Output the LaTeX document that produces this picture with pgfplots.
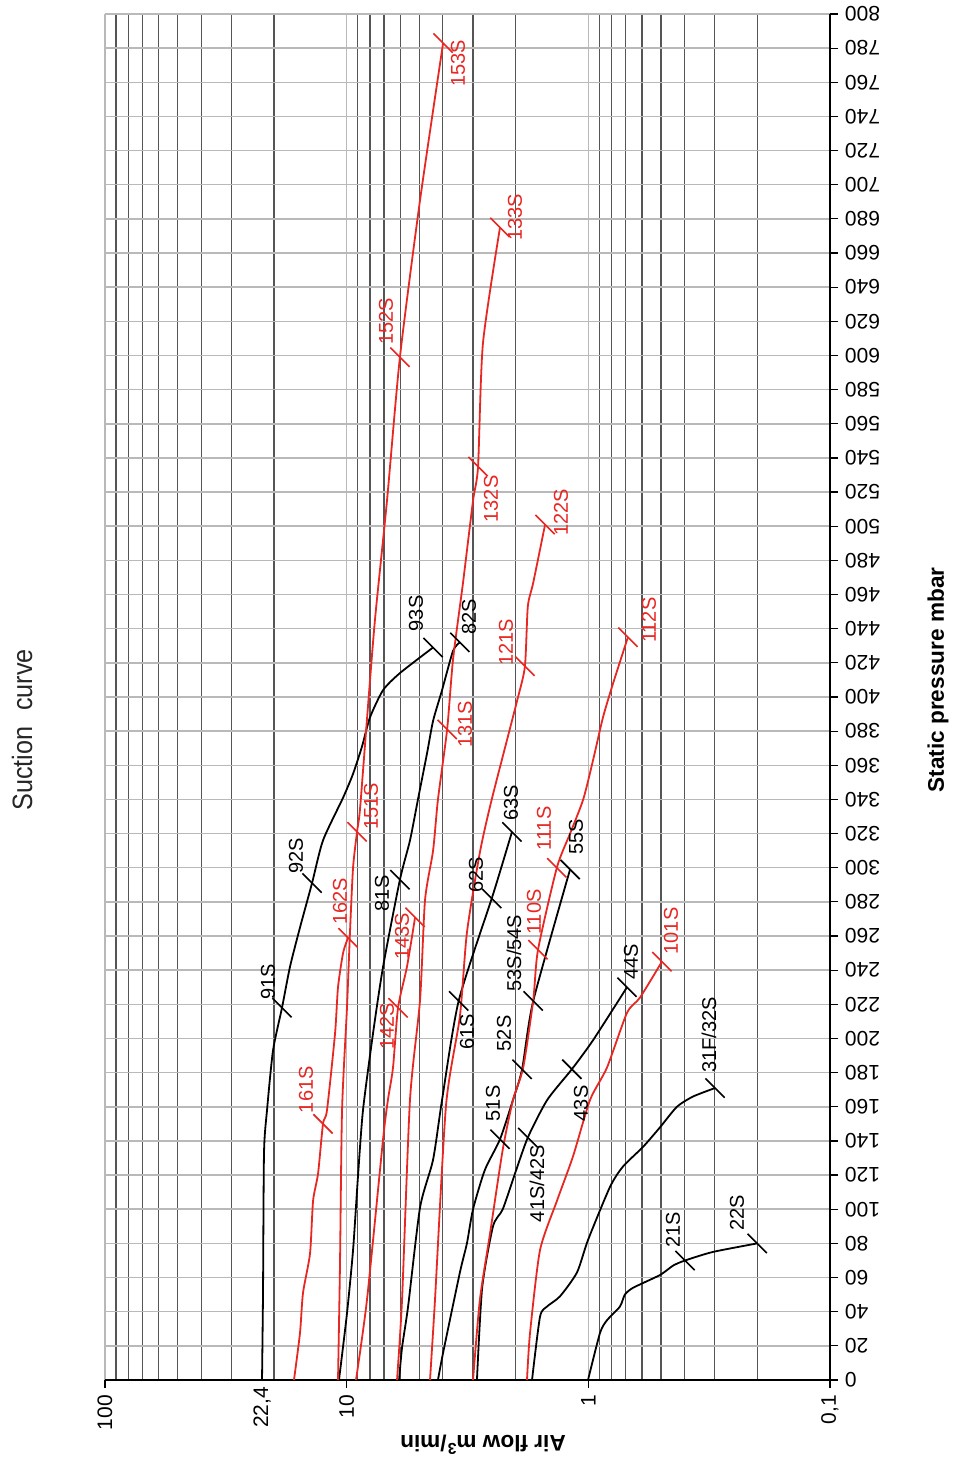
\documentclass[border=0pt]{standalone}
\usepackage{pgfplots}
\pgfplotsset{compat=1.18}
\usepackage{fontspec}
\setmainfont{Liberation Sans}
\definecolor{cred}{RGB}{232,38,34}
\definecolor{gridlight}{RGB}{185,185,185}
\definecolor{griddark}{RGB}{85,85,85}
\begin{document}
\begin{tikzpicture}
\useasboundingbox (-52.5pt,-40.5pt) rectangle (424.5pt,690pt);
\begin{axis}[
  at={(0pt,0pt)}, anchor=south west,
  scale only axis, width=362.5pt, height=683pt,
  xmode=log, x dir=reverse, xmin=0.1, xmax=100,
  ymin=0, ymax=800,
  xtick={0.1,1,10,100}, xticklabels={0{,}1,1,10,100},
  extra x ticks={22.4}, extra x tick labels={22{,}4},
  extra x tick style={grid=none, major tick length=0pt},
  ytick={0,20,...,800},
  axis x line*=bottom, axis y line*=right,
  axis line style={-, black, line width=0.7pt},
  every outer x axis line/.append style={-},
  every outer y axis line/.append style={-},
  tick align=outside, major tick length=4pt, minor tick length=0pt,
  tick style={black, line width=0.6pt},
  xmajorgrids=true, xminorgrids=true, ymajorgrids=true,
  major grid style={gridlight, line width=0.75pt},
  minor grid style={griddark, line width=0.6pt},
  /pgf/number format/assume math mode=true,
  ticklabel style={font=\fontsize{10.5}{12}\selectfont},
  xticklabel style={rotate=90, anchor=east},
  yticklabel style={rotate=180, anchor=east},
  clip=false,
  every node/.append style={font=\fontsize{10.4}{12}\selectfont},
]
% ---- black curves ----
\addplot[black, line width=0.9pt, smooth, tension=0.4] coordinates {
(22.4,0) (22.19,51) (21.98,133) (21.36,158) (20.17,193) (18.52,218) (17.16,242)
(15.60,265) (13.91,291) (12.53,316) (10.35,341) (9.41,355) (8.64,371) (8.01,388)
(7.07,404) (6.02,414) (4.39,429)};
\addplot[black, line width=0.9pt, smooth, tension=0.4] coordinates {
(10.76,0) (9.97,39) (9.41,76) (8.98,119) (8.56,158) (7.78,203) (7.07,242)
(6.02,293) (5.47,316) (5.07,340) (4.65,367) (4.39,386) (4.03,404) (3.63,427) (3.40,432)};
\addplot[black, line width=0.9pt, smooth, tension=0.4] coordinates {
(6.07,0) (5.90,19) (5.57,43) (4.97,101) (4.39,129) (4.03,164) (3.44,222)
(2.51,282) (2.26,303) (2.07,321)};
\addplot[black, line width=0.9pt, smooth, tension=0.4] coordinates {
(4.19,0) (3.99,16) (3.40,63) (3.18,80) (3.00,100) (2.68,123) (2.32,141)
(2.05,164) (1.88,182) (1.69,222) (1.19,299)};
\addplot[black, line width=0.9pt, smooth, tension=0.4] coordinates {
(2.89,0) (2.75,54) (2.48,90) (2.26,100) (2.01,121) (1.78,142) (1.48,164)
(1.17,182) (0.956,199) (0.692,230)};
\addplot[black, line width=0.9pt, smooth, tension=0.4] coordinates {
(1.71,0) (1.585,37) (1.483,43) (1.31,49) (1.114,63) (1.003,82) (0.814,113)
(0.719,125) (0.594,136.5) (0.505,148) (0.43,160) (0.369,166) (0.299,171)};
\addplot[black, line width=0.9pt, smooth, tension=0.4] coordinates {
(1.003,0) (0.895,27.5) (0.837,35) (0.74,43) (0.706,50) (0.653,54) (0.505,61.5)
(0.446,67) (0.398,70) (0.305,75) (0.2,80)};
% ---- red curves ----
\addplot[cred, line width=0.9pt, smooth, tension=0.4] coordinates {
(16.52,0) (15.6,27.5) (15.16,51) (14.18,74) (13.77,105) (13.13,121) (12.53,150)
(12.06,158) (11.17,203) (10.86,230) (10.35,250) (9.87,259)};
\addplot[cred, line width=0.9pt, smooth, tension=0.4] coordinates {
(10.86,0) (10.66,66) (10.45,158) (9.97,218) (9.69,262) (9.41,300) (9.06,321)
(8.81,334) (8.24,387) (7.64,445) (6.81,515) (6.02,599) (4.97,691) (3.99,783)};
\addplot[cred, line width=0.9pt, smooth, tension=0.4] coordinates {
(9.15,0) (8.24,47) (7.07,141) (6.75,164) (6.43,183) (6.13,218) (5.63,242) (5.21,271)};
\addplot[cred, line width=0.9pt, smooth, tension=0.4] coordinates {
(6.19,0) (5.90,47) (5.47,164) (4.97,222.5) (4.74,281) (4.39,310) (4.19,340)
(3.84,381) (3.63,422) (3.30,467) (3.00,515) (2.86,535) (2.73,607) (2.32,675)};
\addplot[cred, line width=0.9pt, smooth, tension=0.4] coordinates {
(4.52,0) (4.31,47) (3.88,161) (3.40,213) (3.18,262) (2.81,309) (2.51,340)
(1.97,398) (1.83,418) (1.78,453) (1.69,467) (1.51,501)};
\addplot[cred, line width=0.9pt, smooth, tension=0.4] coordinates {
(3.00,0) (2.81,47) (2.55,86) (2.26,135) (2.05,164) (1.86,183) (1.69,222.5)
(1.615,252) (1.35,300) (1.19,320) (1.05,340) (0.956,363) (0.87,388) (0.79,408) (0.686,435)};
\addplot[cred, line width=0.9pt, smooth, tension=0.4] coordinates {
(1.794,0) (1.743,27.5) (1.585,76) (1.348,105) (1.157,131) (0.984,164) (0.837,183)
(0.692,215) (0.611,224) (0.496,245)};
% ---- model ticks ----
\addplot[only marks, black, mark=|, mark size=6.8pt, mark options={rotate=45, line width=0.8pt}] coordinates {
(18.52,218) (13.91,291) (4.39,429) (6.02,293) (3.40,432) (3.44,222) (2.51,282) (2.07,321)
(2.32,141) (1.88,182) (1.69,222) (1.19,299) (1.78,142) (1.17,182) (0.692,230)
(0.299,171) (0.398,70) (0.2,80)};
\addplot[only marks, cred, mark=|, mark size=6.8pt, mark options={rotate=45, line width=0.8pt}] coordinates {
(12.53,150) (9.87,259) (9.06,321) (6.02,599) (3.99,783) (6.13,218) (5.21,271)
(3.84,381) (2.86,535) (2.32,675) (1.83,418) (1.51,501) (1.615,252) (1.35,300)
(0.686,435) (0.496,245)};
% ---- labels ----
\begin{scope}[every node/.append style={rotate=90}]
\node[text=cred] at (axis cs:3.462,771) {153S};
\node[text=cred] at (axis cs:6.877,620) {152S};
\node[text=cred] at (axis cs:7.93,336) {151S};
\node[text=cred] at (axis cs:2.012,681) {133S};
\node[text=cred] at (axis cs:2.527,516) {132S};
\node[text=cred] at (axis cs:3.238,384) {131S};
\node[text=cred] at (axis cs:1.297,508) {122S};
\node[text=cred] at (axis cs:2.191,432) {121S};
\node[text=cred] at (axis cs:0.561,445) {112S};
\node[text=cred] at (axis cs:1.526,323) {111S};
\node[text=cred] at (axis cs:1.679,274) {110S};
\node[text=cred] at (axis cs:0.455,263) {101S};
\node[text=cred] at (axis cs:10.66,280.5) {162S};
\node[text=cred] at (axis cs:14.73,170) {161S};
\node[text=cred] at (axis cs:5.904,260) {143S};
\node[text=cred] at (axis cs:6.811,207) {142S};
\node at (axis cs:5.166,449) {93S};
\node at (axis cs:3.117,447) {82S};
\node at (axis cs:16.20,307) {92S};
\node at (axis cs:21.16,233) {91S};
\node at (axis cs:7.141,285) {81S};
\node at (axis cs:2.089,338) {63S};
\node at (axis cs:2.916,296) {62S};
\node at (axis cs:3.178,204) {61S};
\node at (axis cs:1.125,318) {55S};
\node at (axis cs:2.030,250) {53S/54S};
\node at (axis cs:2.234,203) {52S};
\node at (axis cs:2.481,162) {51S};
\node at (axis cs:0.666,245) {44S};
\node at (axis cs:1.072,162) {43S};
\node at (axis cs:1.631,115) {41S/42S};
\node at (axis cs:0.3167,202) {31F/32S};
\node at (axis cs:0.4463,88) {21S};
\node at (axis cs:0.2426,98) {22S};
\end{scope}
\end{axis}
\node[rotate=90, text=black!85, font=\fontsize{14}{16}\selectfont] at (-41.5pt,325pt) {\scalebox{0.9}[1]{Suction\hspace{0.35em} curve}};
\node[rotate=90, font=\bfseries\fontsize{11.3}{13}\selectfont] at (416.5pt,350pt) {Static pressure mbar};
\node[rotate=180, font=\bfseries\fontsize{11.3}{13}\selectfont] at (189pt,-32.5pt) {Air flow m\textsuperscript{3}/min};
\end{tikzpicture}
\end{document}
